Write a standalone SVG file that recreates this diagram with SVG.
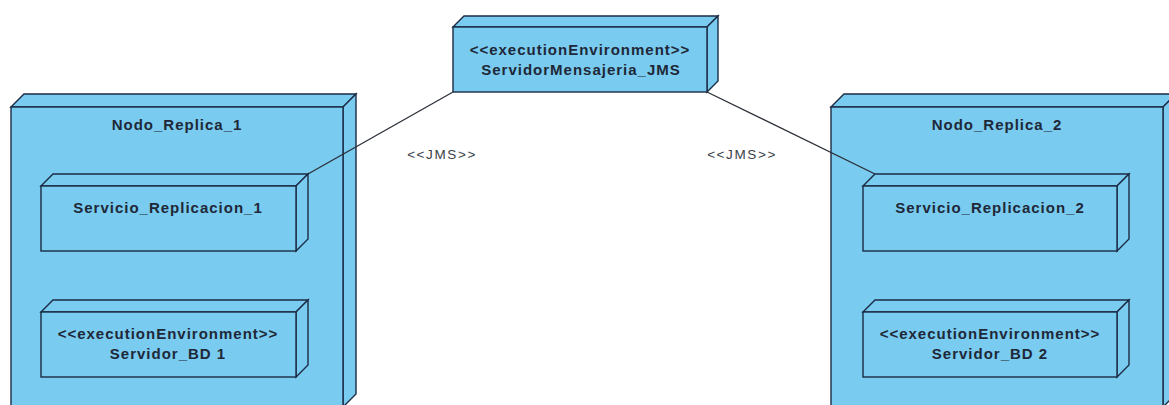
<svg xmlns="http://www.w3.org/2000/svg" width="1169" height="405" viewBox="0 0 1169 405">
  <style>
    .face { fill: #79CBEF; stroke: #1C2B45; stroke-width: 1.4; stroke-linejoin: miter; }
    .name { font-family: "Liberation Sans", Arial, sans-serif; font-weight: bold; font-size: 15px; letter-spacing: 1px; fill: #1E2838; text-anchor: middle; }
    .edge { stroke: #2A2F38; stroke-width: 1.3; fill: none; }
    .lbl { font-family: "Liberation Sans", Arial, sans-serif; font-size: 13.5px; letter-spacing: 1.6px; fill: #3A3F48; text-anchor: middle; }
  </style>
  <rect width="1169" height="405" fill="#FFFFFF"/>

  <!-- Outer device node: Nodo_Replica_1 (x=11, y=107, w=332, h=300, depth=13) -->
  <g id="nodo-replica-1">
    <polygon class="face" points="11,107 24,94 356,94 343,107"/>
    <polygon class="face" points="343,107 356,94 356,394 343,407"/>
    <rect class="face" x="11" y="107" width="332" height="300"/>
    <text class="name" x="177" y="130">Nodo_Replica_1</text>
  </g>

  <g id="servicio-replicacion-1">
    <polygon class="face" points="41,186 53,174 308,174 296,186"/>
    <polygon class="face" points="296,186 308,174 308,239 296,251"/>
    <rect class="face" x="41" y="186" width="255" height="65"/>
    <text class="name" x="168" y="213">Servicio_Replicacion_1</text>
  </g>

  <g id="servidor-bd-1">
    <polygon class="face" points="41,312 53,300 308,300 296,312"/>
    <polygon class="face" points="296,312 308,300 308,365 296,377"/>
    <rect class="face" x="41" y="312" width="255" height="65"/>
    <text class="name" x="168" y="339">&lt;&lt;executionEnvironment&gt;&gt;</text>
    <text class="name" x="168" y="359">Servidor_BD 1</text>
  </g>

  <!-- Outer device node: Nodo_Replica_2 -->
  <g id="nodo-replica-2">
    <polygon class="face" points="831,107 844,94 1176,94 1163,107"/>
    <polygon class="face" points="1163,107 1176,94 1176,394 1163,407"/>
    <rect class="face" x="831" y="107" width="332" height="300"/>
    <text class="name" x="997" y="130">Nodo_Replica_2</text>
  </g>

  <g id="servicio-replicacion-2">
    <polygon class="face" points="863,186 875,174 1129,174 1117,186"/>
    <polygon class="face" points="1117,186 1129,174 1129,239 1117,251"/>
    <rect class="face" x="863" y="186" width="254" height="65"/>
    <text class="name" x="990" y="213">Servicio_Replicacion_2</text>
  </g>

  <g id="servidor-bd-2">
    <polygon class="face" points="863,312 875,300 1129,300 1117,312"/>
    <polygon class="face" points="1117,312 1129,300 1129,365 1117,377"/>
    <rect class="face" x="863" y="312" width="254" height="65"/>
    <text class="name" x="990" y="339">&lt;&lt;executionEnvironment&gt;&gt;</text>
    <text class="name" x="990" y="359">Servidor_BD 2</text>
  </g>

  <!-- Messaging server execution environment -->
  <g id="servidor-mensajeria-jms">
    <polygon class="face" points="453,27 464,16 718,16 707,27"/>
    <polygon class="face" points="707,27 718,16 718,81 707,92"/>
    <rect class="face" x="453" y="27" width="254" height="65"/>
    <text class="name" x="580" y="55">&lt;&lt;executionEnvironment&gt;&gt;</text>
    <text class="name" x="581" y="75">ServidorMensajeria_JMS</text>
  </g>

  <!-- JMS links -->
  <g id="connectors">
    <line class="edge" x1="453" y1="92" x2="308" y2="174"/>
    <line class="edge" x1="707" y1="92" x2="875" y2="174"/>
    <text class="lbl" x="442" y="159">&lt;&lt;JMS&gt;&gt;</text>
    <text class="lbl" x="742" y="159">&lt;&lt;JMS&gt;&gt;</text>
  </g>
</svg>
